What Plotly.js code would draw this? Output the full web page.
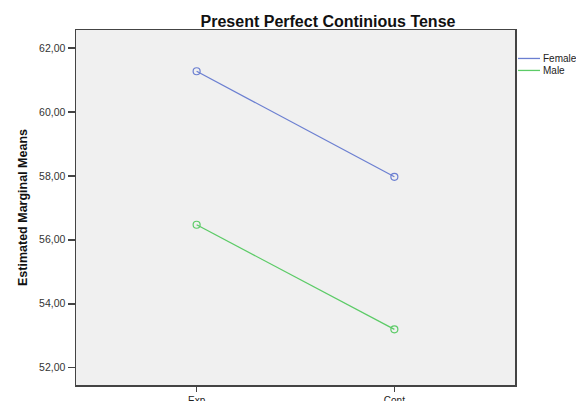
<!DOCTYPE html>
<html><head><meta charset="utf-8">
<script src="https://cdn.plot.ly/plotly-3.0.1.min.js"></script>
<style>html,body{margin:0;padding:0;background:#fff}#c{width:576px;height:401px}</style>
</head><body><div id="c"></div>
<script>
var categories = ["Exp", "Cont"];
var femaleMeans = [61.27, 57.97];
var maleMeans = [56.47, 53.20];
var seriesNames = ["Female", "Male"];
var seriesColors = ["#6b7fd1", "#5ccb67"];
var yTicks = [52, 54, 56, 58, 60, 62];

var traces = [femaleMeans, maleMeans].map(function(vals, i){
  return {x: categories, y: vals, type: "scatter", mode: "lines+markers", name: seriesNames[i],
    line: {color: seriesColors[i], width: 1.3},
    marker: {symbol: "circle-open", size: 7, color: seriesColors[i], line: {width: 1.2, color: seriesColors[i]}},
    showlegend: false, cliponaxis: false};
});

var L = 76, R = 515, T = 29.5, B = 385;
var pw = R - L, ph = B - T;
function px(x){ return (x - L) / pw; }
function py(y){ return (B - y) / ph; }

var legendY = [58, 70];
var shapes = [], annotations = [];
seriesNames.forEach(function(n, i){
  shapes.push({type: "line", xref: "paper", yref: "paper", x0: px(518), x1: px(540), y0: py(legendY[i]), y1: py(legendY[i]),
    line: {color: seriesColors[i], width: 1.3}});
  annotations.push({xref: "paper", yref: "paper", x: px(541), y: py(legendY[i]), xanchor: "left", yanchor: "middle",
    text: n, showarrow: false, font: {family: "Liberation Sans, Arial, sans-serif", size: 10, color: "#222"}});
});

var layout = {
  width: 576, height: 401,
  margin: {l: L, r: 576 - R, t: T, b: 401 - B, pad: 0},
  paper_bgcolor: "#ffffff", plot_bgcolor: "#f0f0f0",
  separators: ",.",
  showlegend: false,
  title: {text: "<b>Present Perfect Continious Tense</b>", font: {family: "Liberation Sans, Arial, sans-serif", size: 16, color: "#111"},
    xref: "paper", x: px(328), xanchor: "center", yref: "container", y: 1 - 21/401, yanchor: "middle"},
  xaxis: {type: "category", range: [-0.61, 1.61], showgrid: false, zeroline: false,
    showline: true, linecolor: "#444", linewidth: 1.5, mirror: true,
    ticks: "outside", ticklen: 5, tickcolor: "#444", tickwidth: 1.5,
    tickfont: {family: "Liberation Sans, Arial, sans-serif", size: 10, color: "#222"}},
  yaxis: {range: [51.46, 62.56], tickvals: yTicks, tickformat: ".2f", showgrid: false, zeroline: false,
    showline: true, linecolor: "#444", linewidth: 1.5, mirror: true,
    ticks: "outside", ticklen: 7, tickcolor: "#444", tickwidth: 1.5,
    tickfont: {family: "Liberation Sans, Arial, sans-serif", size: 10.5, color: "#333"},
    title: {text: "<b>Estimated Marginal Means</b>", standoff: 8, font: {family: "Liberation Sans Narrow, Liberation Sans, Arial, sans-serif", size: 12.5, color: "#111"}}},
  shapes: shapes, annotations: annotations
};

Plotly.newPlot("c", traces, layout, {displayModeBar: false, staticPlot: true});
</script></body></html>
